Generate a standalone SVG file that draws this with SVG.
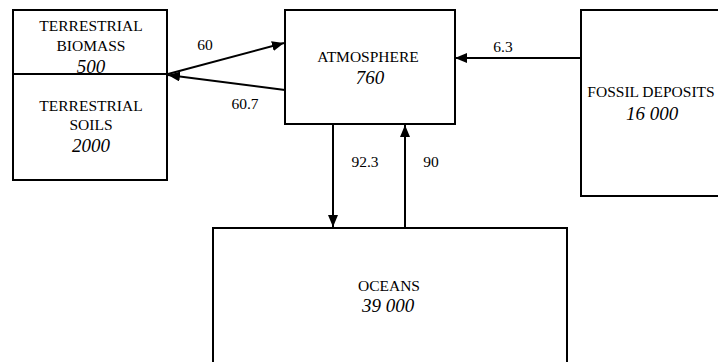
<svg xmlns="http://www.w3.org/2000/svg" width="718" height="362" viewBox="0 0 718 362">
<style>
.box{fill:#fff;stroke:#000;stroke-width:2}
.t{font-family:"Liberation Serif","Times New Roman",serif;font-size:15.5px;fill:#000;text-anchor:middle}
.n{font-family:"Liberation Serif","Times New Roman",serif;font-size:19px;font-style:italic;fill:#000;text-anchor:middle}
.c{stroke:#000;stroke-width:2;fill:none;marker-end:url(#ah)}
</style>
<defs>
<marker id="ah" markerUnits="userSpaceOnUse" markerWidth="13" markerHeight="11" refX="12" refY="5" orient="auto" viewBox="0 0 13 11">
<path d="M0,0 L12,5 L0,10 z" fill="#000"/>
</marker>
</defs>
<rect width="718" height="362" fill="#fff"/>
<g id="terrestrial">
<rect class="box" x="13" y="10" width="154" height="170"/>
<line x1="13" y1="74" x2="167" y2="74" stroke="#000" stroke-width="2"/>
<g id="terrestrial-biomass">
<text class="t" x="91" y="31">TERRESTRIAL</text>
<text class="t" x="91" y="51">BIOMASS</text>
<text class="n" x="91" y="73">500</text>
</g>
<g id="terrestrial-soils">
<text class="t" x="91" y="111">TERRESTRIAL</text>
<text class="t" x="91" y="130">SOILS</text>
<text class="n" x="91" y="152">2000</text>
</g>
</g>
<g id="atmosphere">
<rect class="box" x="285" y="10" width="170" height="114"/>
<text class="t" x="368" y="62">ATMOSPHERE</text>
<text class="n" x="370" y="84">760</text>
</g>
<g id="fossil">
<rect class="box" x="581" y="10" width="150" height="186"/>
<text class="t" x="651" y="97">FOSSIL DEPOSITS</text>
<text class="n" x="652" y="120">16 000</text>
</g>
<g id="oceans">
<rect class="box" x="213" y="228" width="354" height="150"/>
<text class="t" x="389" y="291">OCEANS</text>
<text class="n" x="388" y="312">39 000</text>
</g>
<g id="connectors">
<line class="c" x1="168" y1="74" x2="284" y2="43"/>
<line class="c" x1="285" y1="90" x2="168" y2="75"/>
<line class="c" x1="581" y1="58" x2="455" y2="58"/>
<line class="c" x1="333" y1="124" x2="333" y2="227"/>
<line class="c" x1="405" y1="228" x2="405" y2="125"/>
<text class="t" x="205" y="50">60</text>
<text class="t" x="245" y="109">60.7</text>
<text class="t" x="503" y="52">6.3</text>
<text class="t" x="365" y="167">92.3</text>
<text class="t" x="431" y="167">90</text>
</g>
</svg>
